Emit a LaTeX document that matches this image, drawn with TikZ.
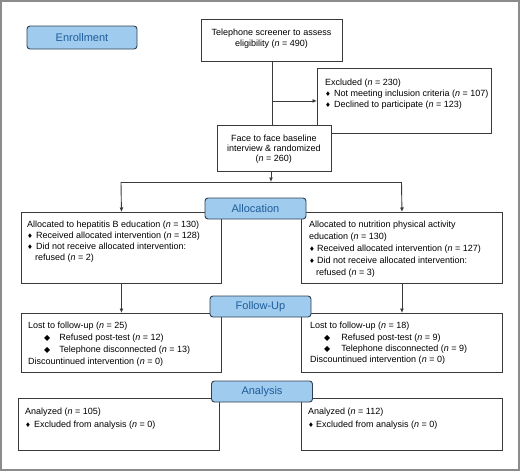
\documentclass[tikz,border=0pt]{standalone}
\usepackage{fontspec}
\setmainfont{Liberation Sans}
\newfontfamily\symf{DejaVu Sans}
\usetikzlibrary{arrows.meta}
\definecolor{lblfill}{HTML}{9FCBEE}
\definecolor{lbltext}{HTML}{1E5C9A}
\definecolor{lbldraw}{HTML}{2E4052}
\definecolor{boxline}{HTML}{3A3A3A}
\definecolor{framegray}{HTML}{8C8C8C}
\newcommand{\bul}{{\symf\fontsize{6.5}{6.5}\selectfont\char"2666}}
\newcommand{\bigbul}{{\symf\fontsize{8}{8}\selectfont\char"25C6}}
\newcommand{\nit}{\textit{n}}
\begin{document}
\begin{tikzpicture}[x=1pt,y=-1pt,
  box/.style={draw=boxline, line width=0.9pt, fill=white, inner sep=0pt, anchor=north west},
  txt/.style={anchor=north west, inner sep=0pt, align=left, font=\fontsize{9}{11.3}\selectfont},
  ctxt/.style={anchor=north, inner sep=0pt, align=center, font=\fontsize{9}{11}\selectfont},
  lbl/.style={draw=lbldraw, fill=lblfill, rounded corners=3pt, line width=0.9pt, minimum width=101pt, minimum height=21pt, inner sep=0pt, text=lbltext, font=\fontsize{11}{13}\selectfont},
  arr/.style={draw=boxline, line width=0.9pt, -{Latex[length=4.5pt,width=4pt]}},
  ln/.style={draw=boxline, line width=0.9pt}]
\useasboundingbox (0,0) rectangle (520,471);
\draw[framegray, line width=2pt] (1,1) rectangle (519,470);

% enrollment
\node[lbl, minimum width=110pt, minimum height=23pt] (enroll) at (82,37.5) {Enrollment};

% screening
\node[box, minimum width=141pt, minimum height=42pt] (tel) at (201,19) {};
\node[ctxt] (teltxt) at (271.5,28.5) {Telephone screener to assess\\eligibility (\nit{} = 490)};

\node[box, minimum width=174pt, minimum height=65pt] (excl) at (317,68) {};
\node[txt, font=\fontsize{9}{11}\selectfont] (excltxt) at (325,78.5) {Excluded (\nit{} = 230)\\
\bul\hspace{3pt}Not meeting inclusion criteria (\nit{} = 107)\\
\bul\hspace{3pt}Declined to participate (\nit{} = 123)};

\node[box, minimum width=114pt, minimum height=46pt] (face) at (217,125) {};
\node[ctxt, font=\fontsize{9}{10.2}\selectfont] (facetxt) at (273.8,134.5) {Face to face baseline\\interview \& randomized\\(\nit{} = 260)};

\draw[ln] (tel.south) -- (tel.south |- face.north);
\coordinate (branch) at (tel.south |- excl.west);
\draw[arr] (branch) -- (excl.west);

% allocation split
\coordinate (split) at (271,182);
\coordinate (lc) at (121,182);
\coordinate (rc) at (401.5,182);
\draw[arr] (split |- face.south) -- (split);
\draw[ln] (lc) -- (rc);

\node[box, minimum width=200pt, minimum height=71pt] (hepa) at (21,212) {};
\node[txt, font=\fontsize{9}{11}\selectfont] (hepatxt) at (27,220.5) {Allocated to hepatitis B education (\nit{} = 130)\\
\bul\hspace{3pt}Received allocated intervention (\nit{} = 128)\\
\bul\hspace{3pt}Did not receive allocated intervention:\\
\hspace*{8pt}refused (\nit{} = 2)};

\node[box, minimum width=201pt, minimum height=71pt] (nutr) at (301,212) {};
\node[txt, font=\fontsize{9}{12}\selectfont] (nutrtxt) at (309,220.5) {Allocated to nutrition physical activity\\
education (\nit{} = 130)\\
\bul\hspace{2pt}Received allocated intervention (\nit{} = 127)\\
\bul\hspace{2pt}Did not receive allocated intervention:\\
\hspace*{7pt}refused (\nit{} = 3)};

\draw[arr] (lc) -- (hepa.north);
\draw[arr] (rc) -- (nutr.north);

\node[lbl] (alloc) at (255.5,208.5) {Allocation};

% follow-up
\node[box, minimum width=200pt, minimum height=59pt] (ful) at (21,313) {};
\node[txt, font=\fontsize{9}{12}\selectfont] (fultxt) at (28,321.5) {Lost to follow-up (\nit{} = 25)\\
\hspace*{16pt}\bigbul\hspace{9pt}Refused post-test (\nit{} = 12)\\
\hspace*{16pt}\bigbul\hspace{9pt}Telephone disconnected (\nit{} = 13)\\
Discountinued intervention (\nit{} = 0)};

\node[box, minimum width=201pt, minimum height=59pt] (fur) at (301,313) {};
\node[txt, font=\fontsize{9}{11.3}\selectfont] (furtxt) at (310,322) {Lost to follow-up (\nit{} = 18)\\
\hspace*{14pt}\bigbul\hspace{11pt}Refused post-test (\nit{} = 9)\\
\hspace*{14pt}\bigbul\hspace{11pt}Telephone disconnected (\nit{} = 9)\\
Discountinued intervention (\nit{} = 0)};

\draw[arr] (hepa.south) -- (ful.north);
\draw[arr] (nutr.south) -- (fur.north);

\node[lbl] (fu) at (260.5,306.5) {Follow-Up};

% analysis
\node[box, minimum width=201pt, minimum height=52pt] (anl) at (18,398) {};
\node[txt, font=\fontsize{9}{13}\selectfont] (anltxt) at (25,407.5) {Analyzed (\nit{} = 105)\\
\bul\hspace{3pt}Excluded from analysis (\nit{} = 0)};

\node[box, minimum width=201pt, minimum height=52pt] (anr) at (301,398) {};
\node[txt, font=\fontsize{9}{13}\selectfont] (anrtxt) at (308,407.5) {Analyzed (\nit{} = 112)\\
\bul\hspace{2pt}Excluded from analysis (\nit{} = 0)};

\node[lbl] (analysis) at (262,391.5) {Analysis};
\end{tikzpicture}
\end{document}
